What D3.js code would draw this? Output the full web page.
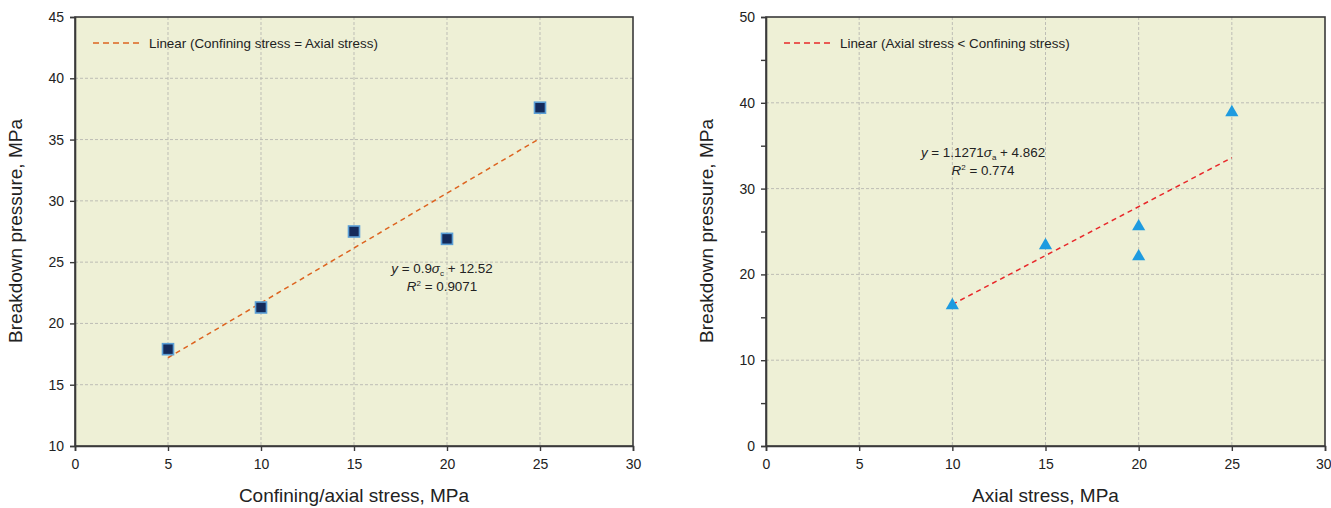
<!DOCTYPE html>
<html><head><meta charset="utf-8">
<script src="https://cdn.jsdelivr.net/npm/d3@7"></script>
<style>
body{margin:0;background:#fff;}
svg text{font-family:"Liberation Sans",Arial,sans-serif;fill:#222;}
</style></head>
<body>
<svg id="c" width="1331" height="508"></svg>
<script>
// Left panel data
const leftX = [5, 10, 15, 20, 25];
const leftY = [17.9, 21.3, 27.5, 26.9, 37.6];
const leftTrendX = [5, 25];
const leftTrendY = [17.2, 35.1];
const leftYTicks = [10, 15, 20, 25, 30, 35, 40, 45];
// Right panel data
const rightX = [10, 15, 20, 20, 25];
const rightY = [16.5, 23.5, 25.7, 22.2, 39.0];
const rightTrendX = [10, 25];
const rightTrendY = [16.5, 33.6];
const rightYTicks = [0, 10, 20, 30, 40, 50];
const rightYMinor = [5, 15, 25, 35, 45];
const xTicks = [0, 5, 10, 15, 20, 25, 30];

const svg = d3.select("#c");

function panel(o){
  const g = svg.append("g");
  const x = d3.scaleLinear().domain([0,30]).range([o.x0, o.x1]);
  const y = d3.scaleLinear().domain(o.yDom).range([446, 17]);
  g.append("rect").attr("x", o.x0).attr("y", 17).attr("width", o.x1-o.x0).attr("height", 429)
    .attr("fill", "#eef0d6");
  // grid
  g.selectAll(".vg").data(xTicks.slice(1,-1)).enter().append("line")
    .attr("x1", d=>x(d)).attr("x2", d=>x(d)).attr("y1", 17).attr("y2", 446)
    .attr("stroke", "#bdbdb5").attr("stroke-width", 1).attr("stroke-dasharray", "3,2");
  g.selectAll(".hg").data(o.yTicks.slice(1,-1)).enter().append("line")
    .attr("x1", o.x0).attr("x2", o.x1).attr("y1", d=>y(d)).attr("y2", d=>y(d))
    .attr("stroke", "#bdbdb5").attr("stroke-width", 1).attr("stroke-dasharray", "3,2");
  // frame
  g.append("rect").attr("x", o.x0).attr("y", 17).attr("width", o.x1-o.x0).attr("height", 429)
    .attr("fill", "none").attr("stroke", "#3a3a3a").attr("stroke-width", 1.6);
  // axes
  const ax = g.append("g").attr("transform", `translate(0,446)`)
    .call(d3.axisBottom(x).tickValues(xTicks).tickSize(5).tickPadding(8).tickFormat(d3.format("d")));
  const ay = g.append("g").attr("transform", `translate(${o.x0},0)`)
    .call(d3.axisLeft(y).tickValues(o.yTicks).tickSize(5).tickPadding(6).tickFormat(d3.format("d")));
  if (o.minor) {
    g.append("g").attr("transform", `translate(${o.x0},0)`)
      .call(d3.axisLeft(y).tickValues(o.minor).tickSize(5).tickFormat(""))
      .call(s=>{s.select(".domain").remove(); s.selectAll("line").attr("stroke","#3a3a3a").attr("stroke-width",1.4);});
  }
  [ax, ay].forEach(a=>{
    a.attr("font-size", null);
    a.select(".domain").attr("stroke", "#3a3a3a").attr("stroke-width", 1.6);
    a.selectAll(".tick line").attr("stroke", "#3a3a3a").attr("stroke-width", 1.4);
    a.selectAll(".tick text").style("font-size", "14px").style("font-family", '"Liberation Sans",Arial,sans-serif').attr("fill", "#222");
  });
  if (o.lastEnd) {
    ax.selectAll(".tick text").filter(d=>d===30).attr("text-anchor","end").attr("dx", 6);
  }
  // trend
  const line = d3.line().x(d=>x(d[0])).y(d=>y(d[1]));
  g.append("path").datum(o.tx.map((v,i)=>[v, o.ty[i]])).attr("d", line)
    .attr("fill", "none").attr("stroke", o.lineColor).attr("stroke-width", 1.5).attr("stroke-dasharray", "5,4");
  // markers
  const pts = o.px.map((v,i)=>[v, o.py[i]]);
  if (o.shape === "square") {
    g.selectAll(".m").data(pts).enter().append("rect")
      .attr("x", d=>x(d[0])-5.5).attr("y", d=>y(d[1])-5.5).attr("width", 11).attr("height", 11)
      .attr("fill", "#142a5a").attr("stroke", "#5b9fd6").attr("stroke-width", 1.6);
  } else {
    const tri = d3.symbol().type(d3.symbolTriangle).size(75);
    g.selectAll(".m").data(pts).enter().append("path")
      .attr("d", tri).attr("transform", d=>`translate(${x(d[0])},${y(d[1])+1})`)
      .attr("fill", "#1e9be0");
  }
  // legend
  g.append("line").attr("x1", o.x0+18).attr("x2", o.x0+68).attr("y1", 43).attr("y2", 43)
    .attr("stroke", o.lineColor).attr("stroke-width", 1.5).attr("stroke-dasharray", "6,4");
  g.append("text").attr("x", o.x0+74).attr("y", 47.5).style("font-size", "13.4px").text(o.legend);
  // equation
  const eq = g.append("text").attr("x", o.eqX).attr("y", o.eqY).attr("text-anchor", "middle").style("font-size", "13.4px");
  eq.append("tspan").attr("font-style", "italic").text("y");
  eq.append("tspan").text(" = " + o.slope);
  eq.append("tspan").attr("font-style", "italic").text("σ");
  eq.append("tspan").attr("dy", 3).style("font-size", "8px").text(o.sub);
  eq.append("tspan").attr("dy", -3).text(" + " + o.icpt);
  const r2 = g.append("text").attr("x", o.eqX).attr("y", o.eqY+18).attr("text-anchor", "middle").style("font-size", "13.4px");
  r2.append("tspan").attr("font-style", "italic").text("R");
  r2.append("tspan").attr("dy", -5).style("font-size", "8px").text("2");
  r2.append("tspan").attr("dy", 5).text(" = " + o.r2);
  // axis titles
  g.append("text").attr("transform", `translate(${o.x0-53},231) rotate(-90)`).attr("text-anchor", "middle")
    .style("font-size", "19px").text("Breakdown pressure, MPa");
  g.append("text").attr("x", (o.x0+o.x1)/2).attr("y", 502).attr("text-anchor", "middle")
    .style("font-size", "19px").text(o.xLabel);
}

panel({x0: 75, x1: 633, yDom: [10,45], yTicks: leftYTicks, px: leftX, py: leftY, tx: leftTrendX, ty: leftTrendY,
  shape: "square", lineColor: "#dd6420", legend: "Linear (Confining stress = Axial stress)",
  eqX: 442, eqY: 273, slope: "0.9", sub: "c", icpt: "12.52", r2: "0.9071", xLabel: "Confining/axial stress, MPa"});
panel({x0: 766, x1: 1325, yDom: [0,50], yTicks: rightYTicks, minor: rightYMinor, px: rightX, py: rightY, tx: rightTrendX, ty: rightTrendY,
  shape: "triangle", lineColor: "#e8282a", legend: "Linear (Axial stress < Confining stress)", lastEnd: true,
  eqX: 983, eqY: 157, slope: "1.1271", sub: "a", icpt: "4.862", r2: "0.774", xLabel: "Axial stress, MPa"});
</script>
</body></html>
